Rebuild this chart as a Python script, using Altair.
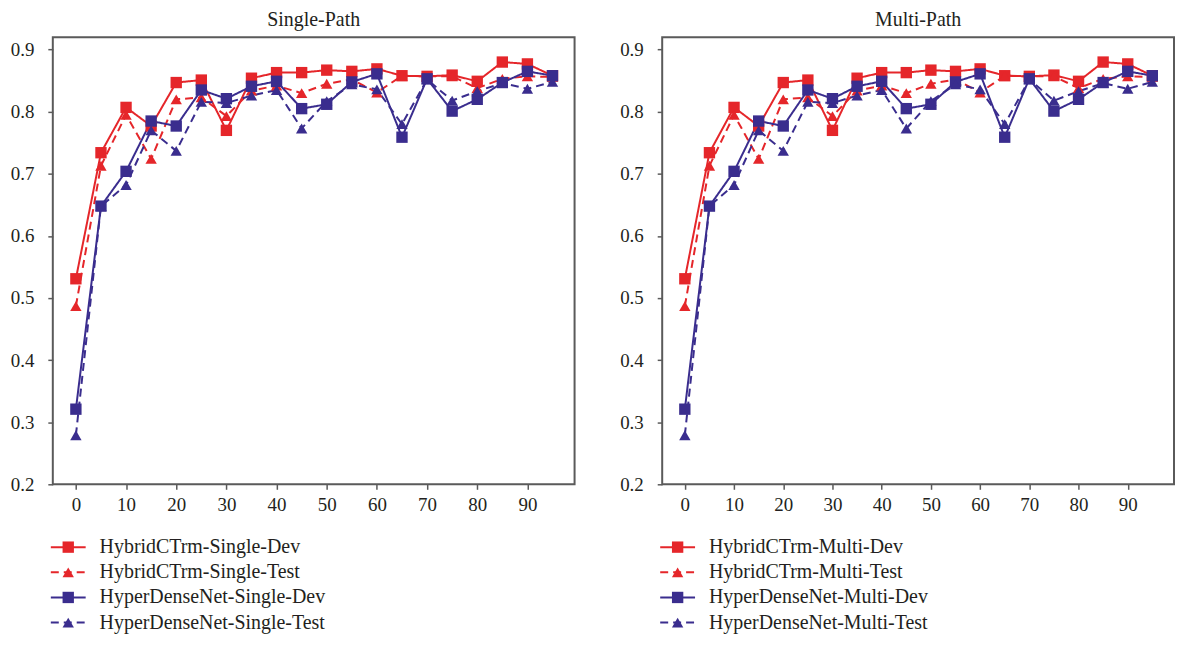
import altair as alt
import pandas as pd

# ---- data ----
epochs = [0, 5, 10, 15, 20, 25, 30, 35, 40, 45, 50, 55, 60, 65, 70, 75, 80, 85, 90, 95]

hybrid_dev = [0.531, 0.734, 0.807, 0.777, 0.847, 0.851, 0.770, 0.854, 0.863, 0.863,
              0.867, 0.865, 0.869, 0.858, 0.857, 0.859, 0.849, 0.880, 0.877, 0.858]
hybrid_test = [0.487, 0.713, 0.795, 0.724, 0.820, 0.823, 0.793, 0.834, 0.842, 0.830,
               0.845, 0.852, 0.831, 0.858, 0.857, 0.857, 0.838, 0.853, 0.857, 0.856]
hyper_dev = [0.321, 0.648, 0.704, 0.785, 0.777, 0.835, 0.821, 0.841, 0.849, 0.805,
             0.812, 0.848, 0.861, 0.759, 0.853, 0.801, 0.820, 0.847, 0.865, 0.858]
hyper_test = [0.279, 0.648, 0.682, 0.770, 0.737, 0.816, 0.814, 0.826, 0.835, 0.773,
              0.817, 0.844, 0.836, 0.780, 0.852, 0.818, 0.833, 0.846, 0.837, 0.848]

single_names = ["HybridCTrm-Single-Dev", "HybridCTrm-Single-Test",
                "HyperDenseNet-Single-Dev", "HyperDenseNet-Single-Test"]
multi_names = ["HybridCTrm-Multi-Dev", "HybridCTrm-Multi-Test",
               "HyperDenseNet-Multi-Dev", "HyperDenseNet-Multi-Test"]
panel_titles = ["Single-Path", "Multi-Path"]

x_ticks = [0, 10, 20, 30, 40, 50, 60, 70, 80, 90]
y_ticks = [0.2, 0.3, 0.4, 0.5, 0.6, 0.7, 0.8, 0.9]

# ---- styles ----
RED = "#e5262a"
BLUE = "#3a2d8e"
colors = [RED, RED, BLUE, BLUE]
dashes = [[1, 0], [8, 5], [1, 0], [8, 5]]
shapes = ["square", "triangle-up", "square", "triangle-up"]
FONT = "Liberation Serif"
TEXT = "#231f20"
AXIS = "#5a5a5a"

series_values = [hybrid_dev, hybrid_test, hyper_dev, hyper_test]


def panel(title, names, w):
    rows = []
    for name, vals in zip(names, series_values):
        for e, v in zip(epochs, vals):
            rows.append({"epoch": e, "value": v, "series": name})
    df = pd.DataFrame(rows)

    x = alt.X("epoch:Q",
              scale=alt.Scale(domain=[-4.6, 99.4], nice=False, zero=False),
              axis=alt.Axis(values=x_ticks, title=None, grid=False, domain=False,
                            tickSize=5, tickColor=AXIS, tickWidth=1.5,
                            labelFont=FONT, labelFontSize=19, labelColor=TEXT,
                            labelPadding=6))
    y = alt.Y("value:Q",
              scale=alt.Scale(domain=[0.2, 0.92], nice=False, zero=False),
              axis=alt.Axis(values=y_ticks, format=".1f", title=None, grid=False,
                            domain=False, tickSize=5, tickColor=AXIS, tickWidth=1.5,
                            labelFont=FONT, labelFontSize=19, labelColor=TEXT,
                            labelPadding=14))
    color = alt.Color("series:N", scale=alt.Scale(domain=names, range=colors), legend=None)
    dash = alt.StrokeDash("series:N", scale=alt.Scale(domain=names, range=dashes), legend=None)
    shape = alt.Shape("series:N", scale=alt.Scale(domain=names, range=shapes), legend=None)

    lines = alt.Chart(df).mark_line(strokeWidth=2).encode(
        x=x, y=y, color=color, strokeDash=dash, detail="series:N")
    points = alt.Chart(df).mark_point(filled=True, size=130, opacity=1).encode(
        x=x, y=y, color=color, shape=shape)

    plot = alt.layer(lines, points).properties(
        width=w, height=449,
        title=alt.TitleParams(title, font=FONT, fontSize=20, fontWeight="normal",
                              color=TEXT, anchor="middle", offset=7))

    leg_df = pd.DataFrame({"series": names})
    ly = alt.Y("series:N", sort=names, axis=None,
               scale=alt.Scale(type="point", padding=0.4))
    leg_line = alt.Chart(leg_df).mark_rule(strokeWidth=2).encode(
        x=alt.value(-2), x2=alt.value(33), y=ly, color=color, strokeDash=dash)
    leg_pt = alt.Chart(leg_df).mark_point(filled=True, size=130, opacity=1).encode(
        x=alt.value(15.5), y=ly, color=color, shape=shape)
    leg_txt = alt.Chart(leg_df).mark_text(
        align="left", baseline="middle", font=FONT, fontSize=20, color=TEXT).encode(
        x=alt.value(47), y=ly, text="series:N")
    legend = alt.layer(leg_line, leg_pt, leg_txt).properties(
        width=w, height=96, view=alt.ViewBackground(stroke="transparent"))

    return alt.vconcat(plot, legend, spacing=21).resolve_scale(
        color="independent", strokeDash="independent", shape="independent")


chart = alt.hconcat(
    panel(panel_titles[0], single_names, 524),
    panel(panel_titles[1], multi_names, 514),
    spacing=43,
).resolve_scale(
    color="independent", strokeDash="independent", shape="independent"
).properties(
    padding={"left": 1, "top": 0, "right": 0, "bottom": 0}
).configure_view(
    stroke=AXIS, strokeWidth=2
)

chart.save("out.html", embed_options={"renderer": "svg", "actions": False})
